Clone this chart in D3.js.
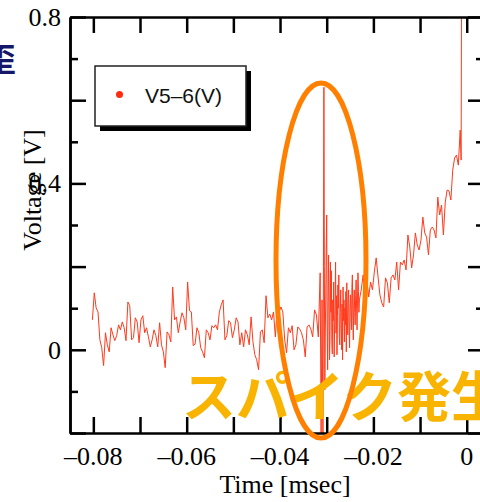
<!DOCTYPE html>
<html>
<head>
<meta charset="utf-8">
<script src="https://cdn.jsdelivr.net/npm/d3@7"></script>
<style>
  html, body { margin: 0; padding: 0; background: #fff; }
  svg { display: block; }
</style>
</head>
<body>
<svg id="chart" width="480" height="502"></svg>
<script>
// ---- data ----
const xTickValues = [-0.08, -0.06, -0.04, -0.02, 0];
const xTickLabels = ["\u20130.08", "\u20130.06", "\u20130.04", "\u20130.02", "0"];
const yTickValues = [0.8, 0.4, 0];
const yTickLabels = ["0.8", "0.4", "0"];
const seriesName = "V5\u20136(V)";
const annotationText = "\u30b9\u30d1\u30a4\u30af\u767a\u751f";
const cornerText = "\u6b6a";
// [time (msec), voltage (V)]
const samples = [
  [-0.0802, 0.072], [-0.0798, 0.137], [-0.0794, 0.101], [-0.0790, 0.091], [-0.0786, 0.024],
  [-0.0782, 0.005], [-0.0778, -0.038], [-0.0774, 0.041], [-0.0770, 0.012], [-0.0766, -0.005],
  [-0.0762, 0.053], [-0.0758, 0.036], [-0.0754, 0.022], [-0.0750, 0.034], [-0.0746, 0.060],
  [-0.0742, 0.048], [-0.0738, 0.067], [-0.0734, 0.053], [-0.0730, 0.022], [-0.0726, 0.115],
  [-0.0722, 0.106], [-0.0718, 0.024], [-0.0714, 0.029], [-0.0710, 0.077], [-0.0706, 0.067],
  [-0.0702, 0.017], [-0.0698, 0.072], [-0.0694, 0.082], [-0.0690, 0.041], [-0.0686, 0.053],
  [-0.0682, 0.031], [-0.0678, 0.007], [-0.0674, 0.024], [-0.0670, 0.048], [-0.0666, 0.034],
  [-0.0662, 0.007], [-0.0658, 0.065], [-0.0654, 0.012], [-0.0650, -0.005], [-0.0646, -0.043],
  [-0.0642, 0.043], [-0.0638, 0.036], [-0.0634, 0.019], [-0.0630, 0.151], [-0.0626, 0.072],
  [-0.0622, 0.079], [-0.0618, 0.041], [-0.0614, 0.067], [-0.0610, 0.089], [-0.0606, 0.077],
  [-0.0602, 0.048], [-0.0598, 0.163], [-0.0594, 0.094], [-0.0590, 0.091], [-0.0586, 0.010],
  [-0.0582, 0.014], [-0.0578, 0.053], [-0.0574, 0.041], [-0.0570, 0.005], [-0.0566, -0.005],
  [-0.0562, -0.019], [-0.0558, 0.048], [-0.0554, 0.041], [-0.0550, 0.024], [-0.0546, 0.058],
  [-0.0542, 0.053], [-0.0538, 0.060], [-0.0534, 0.048], [-0.0530, 0.091], [-0.0526, 0.108],
  [-0.0522, 0.120], [-0.0518, 0.024], [-0.0514, 0.034], [-0.0510, 0.070], [-0.0506, 0.065],
  [-0.0502, 0.029], [-0.0498, 0.048], [-0.0494, 0.077], [-0.0490, 0.067], [-0.0486, 0.012],
  [-0.0482, 0.041], [-0.0478, 0.007], [-0.0474, 0.048], [-0.0470, 0.036], [-0.0466, 0.012],
  [-0.0462, 0.079], [-0.0458, 0.019], [-0.0454, -0.012], [-0.0450, -0.024], [-0.0446, -0.048],
  [-0.0442, 0.043], [-0.0438, 0.048], [-0.0434, 0.017], [-0.0430, 0.130], [-0.0426, 0.077],
  [-0.0422, 0.086], [-0.0418, 0.072], [-0.0414, 0.091], [-0.0410, 0.031], [-0.0406, 0.101],
  [-0.0402, 0.091], [-0.0398, 0.103], [-0.0394, 0.091], [-0.0390, 0.024], [-0.0386, -0.007],
  [-0.0382, 0.053], [-0.0378, 0.041], [-0.0374, 0.058], [-0.0370, 0.000], [-0.0366, 0.012],
  [-0.0362, 0.055], [-0.0358, 0.050], [-0.0354, 0.041], [-0.0350, 0.024], [-0.0346, -0.017],
  [-0.0342, 0.055], [-0.0338, 0.060], [-0.0334, 0.050], [-0.0330, 0.031], [-0.0326, 0.096],
  [-0.0322, 0.084], [-0.0318, 0.031], [-0.0314, 0.185], [-0.0312, -0.216], [-0.0310, 0.120],
  [-0.0308, -0.228], [-0.0306, 0.631], [-0.0305, 0.200], [-0.0304, -0.096], [-0.0303, 0.050],
  [-0.0302, 0.120], [-0.0301, 0.250], [-0.0300, 0.324], [-0.0299, 0.050], [-0.0298, -0.048],
  [-0.0297, 0.100], [-0.0296, 0.228], [-0.0295, 0.140], [-0.0294, -0.024], [-0.0293, 0.030],
  [-0.0292, 0.211], [-0.0291, 0.090], [-0.0290, 0.190], [-0.0289, 0.020], [-0.0288, -0.010],
  [-0.0287, 0.120], [-0.0286, 0.070], [-0.0285, 0.163], [-0.0284, -0.017], [-0.0283, 0.060],
  [-0.0282, 0.110], [-0.0281, 0.211], [-0.0280, 0.040], [-0.0279, 0.130], [-0.0278, -0.012],
  [-0.0277, 0.080], [-0.0276, 0.156], [-0.0275, 0.100], [-0.0274, 0.180], [-0.0273, 0.030],
  [-0.0272, 0.012], [-0.0271, 0.090], [-0.0270, 0.144], [-0.0269, 0.060], [-0.0268, 0.000],
  [-0.0267, 0.110], [-0.0266, -0.024], [-0.0265, 0.151], [-0.0264, 0.070], [-0.0263, 0.120],
  [-0.0262, 0.019], [-0.0261, 0.100], [-0.0260, 0.060], [-0.0259, 0.140], [-0.0258, -0.005],
  [-0.0257, 0.161], [-0.0256, 0.090], [-0.0255, 0.036], [-0.0254, 0.120], [-0.0253, 0.144],
  [-0.0252, 0.050], [-0.0251, 0.005], [-0.0250, 0.100], [-0.0249, 0.132], [-0.0248, 0.080],
  [-0.0247, 0.048], [-0.0246, 0.150], [-0.0245, 0.180], [-0.0244, 0.070], [-0.0243, 0.024],
  [-0.0242, 0.110], [-0.0241, 0.144], [-0.0240, 0.090], [-0.0239, 0.060], [-0.0238, 0.130],
  [-0.0237, 0.168], [-0.0236, 0.100], [-0.0235, 0.048], [-0.0234, 0.120], [-0.0233, 0.185],
  [-0.0232, 0.140], [-0.0231, 0.090], [-0.0230, 0.120],
  [-0.0226, 0.144], [-0.0222, 0.180], [-0.0218, 0.132], [-0.0214, 0.168], [-0.0210, 0.127],
  [-0.0206, 0.163], [-0.0202, 0.144], [-0.0198, 0.187], [-0.0194, 0.221], [-0.0190, 0.175],
  [-0.0186, 0.132], [-0.0182, 0.113], [-0.0178, 0.103], [-0.0174, 0.173], [-0.0170, 0.161],
  [-0.0166, 0.113], [-0.0162, 0.173], [-0.0158, 0.180], [-0.0154, 0.168], [-0.0150, 0.211],
  [-0.0146, 0.144], [-0.0142, 0.211], [-0.0138, 0.204], [-0.0134, 0.216], [-0.0130, 0.192],
  [-0.0126, 0.276], [-0.0122, 0.247], [-0.0118, 0.197], [-0.0114, 0.228], [-0.0110, 0.281],
  [-0.0106, 0.252], [-0.0102, 0.240], [-0.0098, 0.264], [-0.0094, 0.319], [-0.0090, 0.281],
  [-0.0086, 0.271], [-0.0082, 0.228], [-0.0078, 0.288], [-0.0074, 0.295], [-0.0070, 0.288],
  [-0.0066, 0.269], [-0.0062, 0.367], [-0.0058, 0.324], [-0.0054, 0.348], [-0.0050, 0.276],
  [-0.0046, 0.355], [-0.0042, 0.384], [-0.0038, 0.382], [-0.0034, 0.360], [-0.0030, 0.432],
  [-0.0026, 0.461], [-0.0022, 0.468], [-0.0018, 0.444], [-0.0014, 0.528], [-0.0012, 0.456],
  [-0.0011, 0.950]
];

// ---- layout ----
const svg = d3.select("#chart");
const plotL = 70, plotR = 484, plotT = 17, plotB = 433;
const x = d3.scaleLinear().domain([-0.085, 0.0037]).range([plotL, plotR]);
const y = d3.scaleLinear().domain([-0.2, 0.8]).range([plotB, plotT]);

const serif = "'Liberation Serif', 'Times New Roman', serif";

// corner glyph (cropped slide text)
svg.append("text")
  .attr("x", 16).attr("y", 71)
  .attr("text-anchor", "end")
  .attr("font-family", "'Noto Sans CJK JP', sans-serif")
  .attr("font-weight", "bold")
  .attr("font-size", 32)
  .attr("fill", "#17176a")
  .text(cornerText);

// clip for data
svg.append("defs").append("clipPath").attr("id", "plotClip")
  .append("rect").attr("x", plotL).attr("y", plotT)
  .attr("width", plotR - plotL).attr("height", plotB - plotT);

// data line
const line = d3.line().x(d => x(d[0])).y(d => y(d[1]));
svg.append("path")
  .datum(samples)
  .attr("clip-path", "url(#plotClip)")
  .attr("fill", "none")
  .attr("stroke", "#ff3a1c")
  .attr("stroke-width", 1)
  .attr("stroke-linejoin", "round")
  .attr("d", line);

// axes
const axisW = 2.5;
const xTicksAll = [-0.08, -0.07, -0.06, -0.05, -0.04, -0.03, -0.02, -0.01, 0];
const bottomAxis = d3.axisBottom(x)
  .tickValues(xTicksAll)
  .tickSizeInner(-16).tickSizeOuter(0).tickFormat("");
const topAxis = d3.axisTop(x)
  .tickValues(xTicksAll)
  .tickSizeInner(-16).tickSizeOuter(0).tickFormat("");
const yMajor = [-0.2, 0, 0.2, 0.4, 0.6, 0.8];
const yMinor = [-0.1, 0.1, 0.3, 0.5, 0.7];

const gB = svg.append("g").attr("transform", `translate(0,${plotB})`).call(bottomAxis);
const gT = svg.append("g").attr("transform", `translate(0,${plotT})`).call(topAxis);
const gL = svg.append("g").attr("transform", `translate(${plotL},0)`)
  .call(d3.axisLeft(y).tickValues(yMajor).tickSizeInner(-16).tickSizeOuter(0).tickFormat(""));
const gL2 = svg.append("g").attr("transform", `translate(${plotL},0)`)
  .call(d3.axisLeft(y).tickValues(yMinor).tickSizeInner(-8).tickSizeOuter(0).tickFormat(""));
const gR = svg.append("g").attr("transform", `translate(${plotR},0)`)
  .call(d3.axisRight(y).tickValues(yMajor).tickSizeInner(-16).tickSizeOuter(0).tickFormat(""));
const gR2 = svg.append("g").attr("transform", `translate(${plotR},0)`)
  .call(d3.axisRight(y).tickValues(yMinor).tickSizeInner(-8).tickSizeOuter(0).tickFormat(""));

[gB, gT, gL, gL2, gR, gR2].forEach(g => {
  g.selectAll("path.domain").attr("stroke", "#000").attr("stroke-width", axisW);
  g.selectAll(".tick line").attr("stroke", "#000").attr("stroke-width", axisW);
});

// tick labels
svg.append("g").selectAll("text").data(xTickValues).join("text")
  .attr("x", d => x(d)).attr("y", 465)
  .attr("text-anchor", "middle")
  .attr("font-family", serif).attr("font-size", 26).attr("fill", "#000")
  .text((d, i) => xTickLabels[i]);

svg.append("g").selectAll("text").data(yTickValues).join("text")
  .attr("x", 61).attr("y", d => y(d) + 9)
  .attr("text-anchor", "end")
  .attr("font-family", serif).attr("font-size", 26).attr("fill", "#000")
  .text((d, i) => yTickLabels[i]);

// axis titles
svg.append("text")
  .attr("x", 285).attr("y", 493)
  .attr("text-anchor", "middle")
  .attr("font-family", serif).attr("font-size", 26).attr("fill", "#000")
  .text("Time [msec]");

svg.append("text")
  .attr("transform", "translate(41,190) rotate(-90)")
  .attr("text-anchor", "middle")
  .attr("font-family", serif).attr("font-size", 26).attr("fill", "#000")
  .text("Voltage [V]");

// legend
const lg = svg.append("g");
lg.append("rect").attr("x", 100).attr("y", 71).attr("width", 151).attr("height", 60).attr("fill", "#000");
lg.append("rect").attr("x", 95).attr("y", 66).attr("width", 151).attr("height", 60)
  .attr("fill", "#fff").attr("stroke", "#222").attr("stroke-width", 1.5);
lg.append("circle").attr("cx", 119.5).attr("cy", 94.5).attr("r", 3.5).attr("fill", "#ff2a10");
lg.append("text").attr("x", 145).attr("y", 103)
  .attr("font-family", "'Liberation Sans', Arial, sans-serif").attr("font-size", 21).attr("fill", "#111")
  .text(seriesName);

// annotation text
svg.append("text")
  .attr("x", 182).attr("y", 417)
  .attr("font-family", "'Noto Sans CJK JP', sans-serif")
  .attr("font-weight", "bold")
  .attr("font-size", 54)
  .attr("fill", "#f8b400")
  .text(annotationText);

// ellipse highlight
svg.append("ellipse")
  .attr("cx", 321).attr("cy", 260.5).attr("rx", 45).attr("ry", 177.5)
  .attr("fill", "none").attr("stroke", "#ff8000").attr("stroke-width", 5);
</script>
</body>
</html>
